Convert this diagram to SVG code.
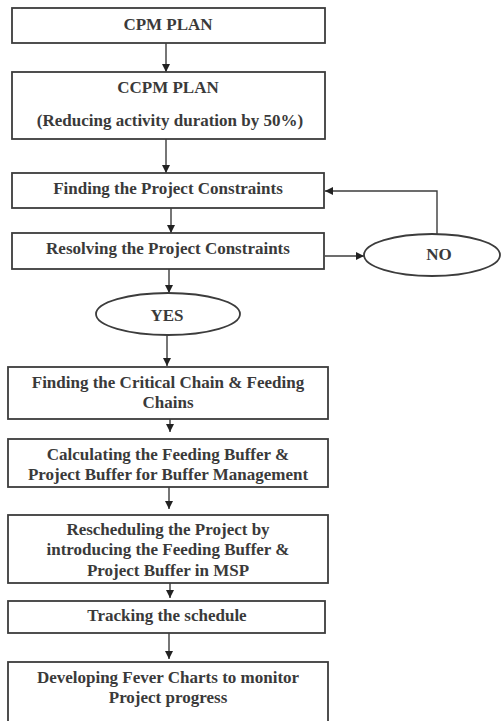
<svg xmlns="http://www.w3.org/2000/svg" width="502" height="721" viewBox="0 0 502 721">
<defs>
<style>
.box{fill:#fff;stroke:#3c3c3c;stroke-width:1.8}
.t{font-family:"Liberation Serif","Times New Roman",serif;font-weight:bold;font-size:17px;fill:#3a3a3a;text-anchor:middle;dominant-baseline:central}
.c{stroke:#3c3c3c;stroke-width:1.4;fill:none}
</style>
<marker id="ah" viewBox="0 0 10 10" refX="10" refY="5" markerWidth="8" markerHeight="8" markerUnits="userSpaceOnUse" orient="auto">
<path d="M0,0 L10,5 L0,10 z" fill="#222"/>
</marker>
</defs>
<rect width="502" height="721" fill="#fff"/>
<g id="connectors">
<line class="c" x1="166" y1="43" x2="166" y2="72" marker-end="url(#ah)"/>
<line class="c" x1="166" y1="139" x2="166" y2="173" marker-end="url(#ah)"/>
<line class="c" x1="171" y1="208" x2="171" y2="233" marker-end="url(#ah)"/>
<line class="c" x1="325" y1="256" x2="364" y2="256" marker-end="url(#ah)"/>
<polyline class="c" points="437,234 437,191 325,191" marker-end="url(#ah)"/>
<line class="c" x1="169" y1="269" x2="169" y2="293" marker-end="url(#ah)"/>
<line class="c" x1="167" y1="335" x2="167" y2="366" marker-end="url(#ah)"/>
<line class="c" x1="170" y1="410" x2="170" y2="432" marker-end="url(#ah)"/>
<line class="c" x1="169" y1="475" x2="169" y2="509" marker-end="url(#ah)"/>
<line class="c" x1="170" y1="578" x2="170" y2="598" marker-end="url(#ah)"/>
<line class="c" x1="169" y1="629" x2="169" y2="659" marker-end="url(#ah)"/>
</g>
<g id="cpm">
<rect class="box" x="12" y="8" width="313" height="35"/>
<text class="t" x="168" y="24">CPM PLAN</text>
</g>
<g id="ccpm">
<rect class="box" x="12" y="72" width="313" height="67"/>
<text class="t" x="168" y="87">CCPM PLAN</text>
<text class="t" x="170" y="120">(Reducing activity duration by 50%)</text>
</g>
<g id="finding">
<rect class="box" x="12" y="173" width="312" height="35"/>
<text class="t" x="168" y="188">Finding the Project Constraints</text>
</g>
<g id="resolving">
<rect class="box" x="12" y="233" width="312" height="36"/>
<text class="t" x="168" y="248">Resolving the Project Constraints</text>
</g>
<g id="no">
<ellipse class="box" cx="432" cy="255" rx="68" ry="21"/>
<text class="t" x="439" y="254">NO</text>
</g>
<g id="yes">
<ellipse class="box" cx="168" cy="314" rx="72" ry="21"/>
<text class="t" x="167" y="315">YES</text>
</g>
<g id="critical">
<rect class="box" x="8" y="367" width="320" height="52"/>
<text class="t" x="168" y="382">Finding the Critical Chain &amp; Feeding</text>
<text class="t" x="168" y="402">Chains</text>
</g>
<g id="calculating">
<rect class="box" x="8" y="439" width="320" height="48"/>
<text class="t" x="168" y="454">Calculating the Feeding Buffer &amp;</text>
<text class="t" x="168" y="474">Project Buffer for Buffer Management</text>
</g>
<g id="rescheduling">
<rect class="box" x="8" y="515" width="320" height="68"/>
<text class="t" x="168" y="529">Rescheduling the Project by</text>
<text class="t" x="168" y="549">introducing the Feeding Buffer &amp;</text>
<text class="t" x="168" y="570">Project Buffer in MSP</text>
</g>
<g id="tracking">
<rect class="box" x="8" y="601" width="317" height="32"/>
<text class="t" x="167" y="615">Tracking the schedule</text>
</g>
<g id="fever">
<rect class="box" x="8" y="662" width="320" height="70"/>
<text class="t" x="168" y="677">Developing Fever Charts to monitor</text>
<text class="t" x="168" y="697">Project progress</text>
</g>
</svg>
